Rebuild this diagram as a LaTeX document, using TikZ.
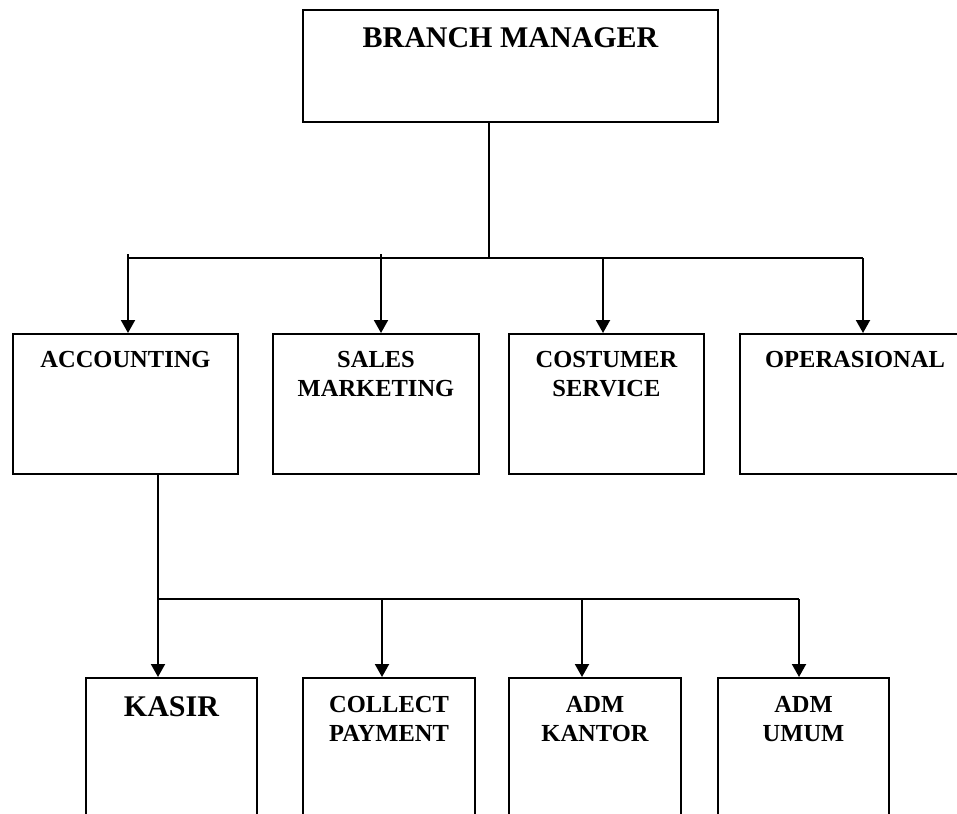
\documentclass[tikz,border=0pt]{standalone}
\usepackage{fontspec}
\setmainfont{Liberation Serif}
\usetikzlibrary{arrows.meta}

\tikzset{
  unit/.style={draw, anchor=north west, inner sep=0pt},
  title/.style={font=\bfseries\fontsize{24.5}{29}\selectfont, align=center,
    anchor=base, inner sep=0pt},
  bigtitle/.style={title, font=\bfseries\fontsize{30}{34}\selectfont},
}

\begin{document}
\begin{tikzpicture}[x=1pt,y=-1pt,line width=2pt,
        >={Triangle[width=14pt,length=13pt]}]
  \useasboundingbox (0,0) rectangle (957,813);

  % boxes
  \node[unit,minimum width=415pt,minimum height=112pt] (bm) at (302,9) {};
  \node[unit,minimum width=225pt,minimum height=140pt] (acc) at (12,333) {};
  \node[unit,minimum width=206pt,minimum height=140pt] (sm) at (272,333) {};
  \node[unit,minimum width=195pt,minimum height=140pt] (cs) at (508,333) {};
  \node[unit,minimum width=230pt,minimum height=140pt] (op) at (739,333) {};
  \node[unit,minimum width=171pt,minimum height=160pt] (kas) at (85,677) {};
  \node[unit,minimum width=172pt,minimum height=160pt] (cp) at (302,677) {};
  \node[unit,minimum width=172pt,minimum height=160pt] (ak) at (508,677) {};
  \node[unit,minimum width=171pt,minimum height=160pt] (au) at (717,677) {};

  % texts (base = last line)
  \node[bigtitle] (bmt) at ([yshift=-39pt]bm.north) {BRANCH MANAGER};
  \node[title] (acct) at ([yshift=-34pt]acc.north) {ACCOUNTING};
  \node[title] (smt) at ([yshift=-63pt]sm.north) {SALES\\MARKETING};
  \node[title] (cst) at ([yshift=-63pt]cs.north) {COSTUMER\\SERVICE};
  \node[title] (opt) at ([yshift=-34pt]op.north) {OPERASIONAL};
  \node[bigtitle] (kast) at ([yshift=-39pt]kas.north) {KASIR};
  \node[title] (cpt) at ([yshift=-64pt]cp.north) {COLLECT\\PAYMENT};
  \node[title] (akt) at ([yshift=-64pt]ak.north) {ADM\\KANTOR};
  \node[title] (aut) at ([yshift=-64pt]au.north) {ADM\\UMUM};

  % first level
  \coordinate (j1) at (489,258);
  \coordinate (b1w) at (128,258);
  \coordinate (b1e) at (863,258);
  \coordinate (s1) at (128,254);
  \coordinate (s2) at (381,254);
  \coordinate (s3) at (603,258);
  \draw (bm.south -| j1) -- (j1);
  \draw (b1w) -- (b1e);
  \foreach \s/\t in {s1/acc,s2/sm,s3/cs,b1e/op}
    \draw[->] (\s) -- (\s |- \t.north);

  % second level
  \coordinate (j2) at (158,599);
  \coordinate (b2e) at (799,599);
  \coordinate (t2) at (382,599);
  \coordinate (t3) at (582,599);
  \draw[->] (acc.south -| j2) -- (j2 |- kas.north);
  \draw (j2) -- (b2e);
  \foreach \s/\t in {t2/cp,t3/ak,b2e/au}
    \draw[->] (\s) -- (\s |- \t.north);

\end{tikzpicture}
\end{document}
